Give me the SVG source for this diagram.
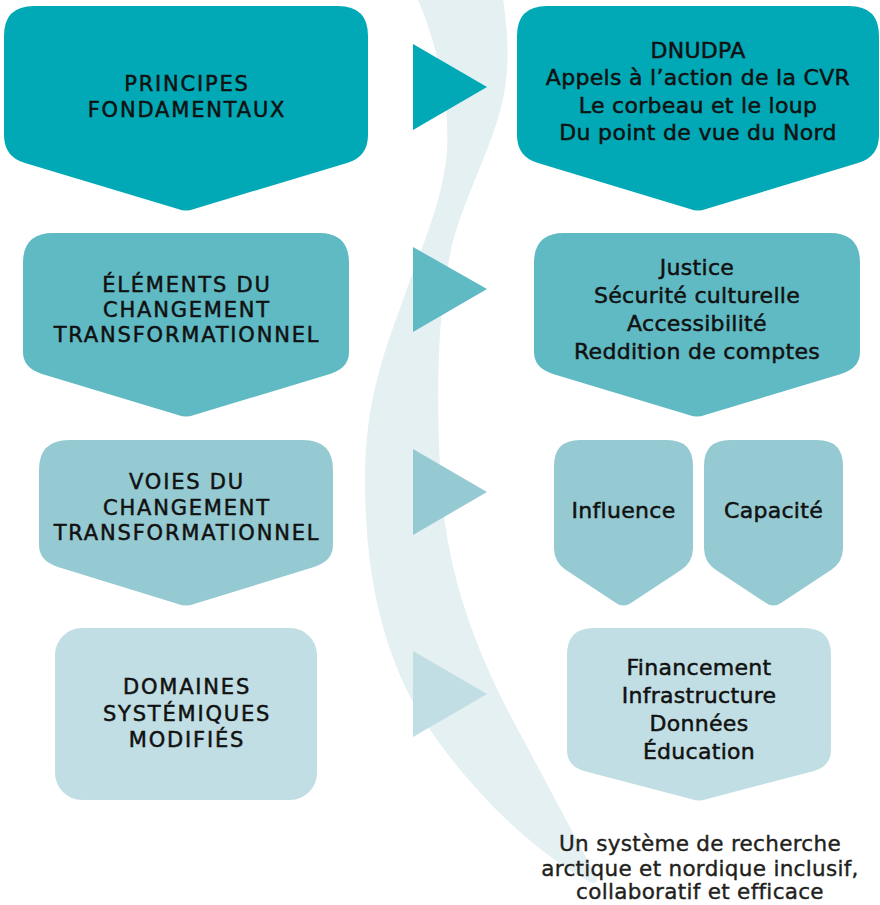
<svg xmlns="http://www.w3.org/2000/svg" width="880" height="905" viewBox="0 0 880 905">
<style>
.c1{fill:#00a9b5}.c2{fill:#5fbac4}.c3{fill:#95cad2}.c4{fill:#c0dee3}
.cap{font-family:"DejaVu Sans",sans-serif;font-size:21px;letter-spacing:1.8px;fill:#111;stroke:#111;stroke-width:0.5px;text-anchor:middle}
.low{font-family:"DejaVu Sans",sans-serif;font-size:22px;letter-spacing:0.3px;fill:#111;stroke:#111;stroke-width:0.5px;text-anchor:middle}
.out{font-family:"DejaVu Sans",sans-serif;font-size:21.5px;letter-spacing:0.3px;fill:#231f20;stroke:#231f20;stroke-width:0.4px;text-anchor:middle}
</style>
<rect width="880" height="905" fill="#ffffff"/>
<path id="swoosh" fill="#e4f0f2" d="M417,-2 C436,40 450,100 447,150 C444,200 420,250 403,300 C385,350 365,400 365,480 C365,580 385,660 425,722 C465,784 530,850 590,882 Q597,885 597,878 C577,840 545,780 510,715 C480,655 445,580 440,470 C436,380 438,310 452,245 C468,185 500,135 506,80 C510,45 505,15 503,-2 Z"/>
<g id="connectors">
<polygon class="c1" points="413,44 487,87 413,130"/>
<polygon class="c2" points="413,247 487,289 413,332"/>
<polygon class="c3" points="413,449 487,492 413,535"/>
<polygon class="c4" points="413,651 487,694 413,737"/>
</g>
<g id="principes">
<path class="c1" d="M34,6 H338 Q368,6 368,36 V135 Q368,157 347,163 L194,209 Q186,212 178,209 L25,163 Q4,157 4,135 V36 Q4,6 34,6 Z"/>
<text class="cap" x="187" y="91">PRINCIPES</text>
<text class="cap" x="187" y="117">FONDAMENTAUX</text>
</g>
<g id="sources">
<path class="c1" d="M547,6 H849 Q879,6 879,36 V135 Q879,157 858,163 L706,209 Q698,212 690,209 L538,163 Q517,157 517,135 V36 Q517,6 547,6 Z"/>
<text class="low" x="698" y="58">DNUDPA</text>
<text class="low" x="698" y="85">Appels à l’action de la CVR</text>
<text class="low" x="698" y="112.5">Le corbeau et le loup</text>
<text class="low" x="698" y="140">Du point de vue du Nord</text>
</g>
<g id="elements">
<path class="c2" d="M53,233 H319 Q349,233 349,263 V352 Q349,368 330,374 L194,415 Q186,418 178,415 L42,374 Q23,368 23,352 V263 Q23,233 53,233 Z"/>
<text class="cap" x="187" y="292">ÉLÉMENTS DU</text>
<text class="cap" x="187" y="317">CHANGEMENT</text>
<text class="cap" x="187" y="342">TRANSFORMATIONNEL</text>
</g>
<g id="valeurs">
<path class="c2" d="M564,233 H830 Q860,233 860,263 V352 Q860,368 841,374 L705,415 Q697,418 689,415 L553,374 Q534,368 534,352 V263 Q534,233 564,233 Z"/>
<text class="low" x="697" y="275">Justice</text>
<text class="low" x="697" y="303">Sécurité culturelle</text>
<text class="low" x="697" y="331">Accessibilité</text>
<text class="low" x="697" y="359">Reddition de comptes</text>
</g>
<g id="voies">
<path class="c3" d="M69,440 H303 Q333,440 333,470 V545 Q333,561 314,567 L194,604 Q186,607 178,604 L58,567 Q39,561 39,545 V470 Q39,440 69,440 Z"/>
<text class="cap" x="187" y="489">VOIES DU</text>
<text class="cap" x="187" y="515">CHANGEMENT</text>
<text class="cap" x="187" y="540">TRANSFORMATIONNEL</text>
</g>
<g id="influence">
<path class="c3" d="M580,440 H667 Q693,440 693,466 V548 Q693,562 681,570 L631,603 Q623.5,608 616,603 L566,570 Q554,562 554,548 V466 Q554,440 580,440 Z"/>
<text class="low" x="623.5" y="518">Influence</text>
</g>
<g id="capacite">
<path class="c3" d="M730,440 H817 Q843,440 843,466 V548 Q843,562 831,570 L781,603 Q773.5,608 766,603 L716,570 Q704,562 704,548 V466 Q704,440 730,440 Z"/>
<text class="low" x="773.5" y="518">Capacité</text>
</g>
<g id="domaines">
<rect class="c4" x="55" y="628" width="262" height="172" rx="27"/>
<text class="cap" x="187" y="694">DOMAINES</text>
<text class="cap" x="187" y="721">SYSTÉMIQUES</text>
<text class="cap" x="187" y="747">MODIFIÉS</text>
</g>
<g id="domaines-liste">
<path class="c4" d="M594,628 H804 Q831,628 831,655 V750 Q831,766 814,771 L707,799 Q699,802 691,799 L584,771 Q567,766 567,750 V655 Q567,628 594,628 Z"/>
<text class="low" x="699" y="675">Financement</text>
<text class="low" x="699" y="703">Infrastructure</text>
<text class="low" x="699" y="731">Données</text>
<text class="low" x="699" y="759">Éducation</text>
</g>
<g id="resultat">
<text class="out" x="700" y="851">Un système de recherche</text>
<text class="out" x="700" y="876">arctique et nordique inclusif,</text>
<text class="out" x="700" y="899">collaboratif et efficace</text>
</g>
</svg>
